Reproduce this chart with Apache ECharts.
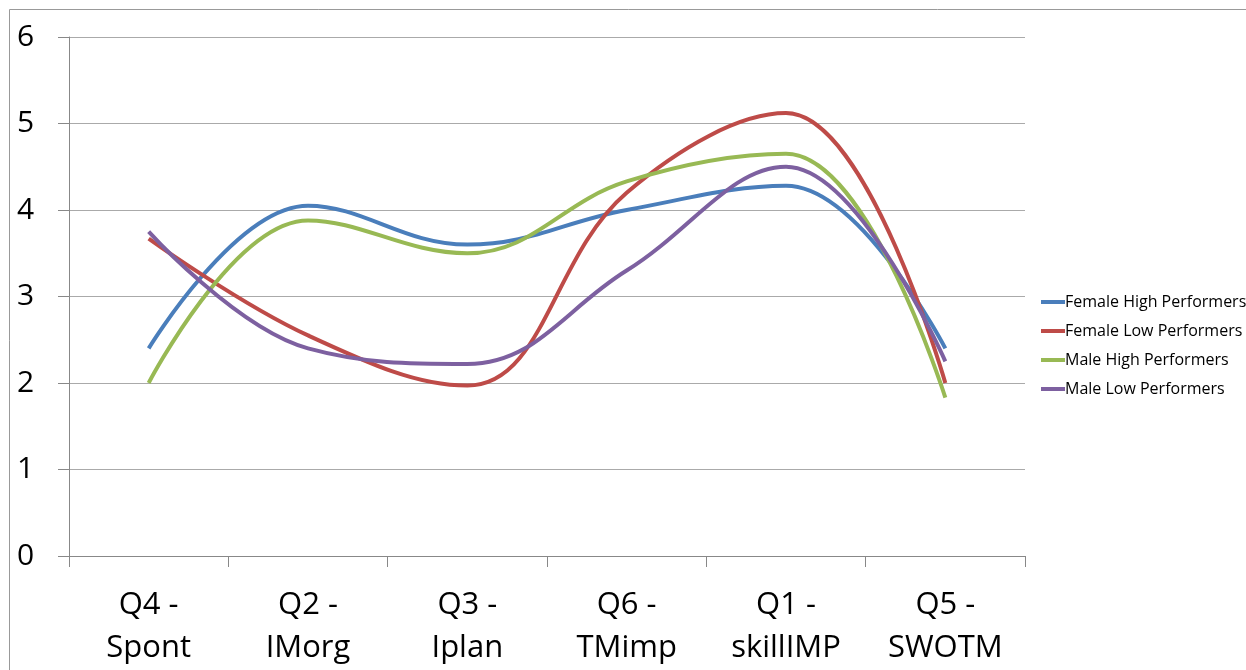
<!DOCTYPE html>
<html><head><meta charset="utf-8">
<script src="https://cdn.jsdelivr.net/npm/echarts@6/dist/echarts.min.js"></script>
<style>html,body{margin:0;padding:0;background:#fff}#c{width:1246px;height:670px}</style>
</head><body><div id="c"></div>
<script>
const categories = ['Q4 -\nSpont', 'Q2 -\nIMorg', 'Q3 -\nIplan', 'Q6 -\nTMimp', 'Q1 -\nskillIMP', 'Q5 -\nSWOTM'];
const femaleHigh = [2.4, 4.05, 3.6, 4.0, 4.28, 2.4];
const femaleLow = [3.67, 2.55, 1.97, 4.2, 5.12, 2.0];
const maleHigh = [2.0, 3.88, 3.5, 4.33, 4.65, 1.83];
const maleLow = [3.75, 2.4, 2.22, 3.3, 4.5, 2.25];
const yTicks = [0, 1, 2, 3, 4, 5, 6];

const chart = echarts.init(document.getElementById('c'));
const mk = (name, data, color) => ({
  name, type: 'line', data, smooth: 0.4, symbol: 'none',
  lineStyle: { color, width: 4 }, itemStyle: { color }
});
chart.setOption({
  animation: false,
  graphic: [{ type: 'rect', shape: { x: 9.5, y: 9.5, width: 1300, height: 700 },
    style: { fill: 'none', stroke: '#999', lineWidth: 1 } }],
  grid: { left: 69, right: 221, top: 37, bottom: 114, outerBoundsMode: 'none', containLabel: false },
  legend: {
    orient: 'vertical', left: 1036, top: 289, itemGap: 13,
    itemWidth: 24, itemHeight: 4, icon: 'rect',
    textStyle: { fontFamily: 'Open Sans', fontSize: 16, color: '#000', padding: [0, 0, 0, -5] },
    data: ['Female High Performers', 'Female Low Performers', 'Male High Performers', 'Male Low Performers']
  },
  xAxis: {
    type: 'category', data: categories, boundaryGap: true,
    axisLine: { lineStyle: { color: '#888', width: 1 } },
    axisTick: { show: true, length: 11, lineStyle: { color: '#888' } },
    axisLabel: { fontFamily: 'Open Sans', fontSize: 31, color: '#000', lineHeight: 43, margin: 28 }
  },
  yAxis: {
    type: 'value', min: 0, max: 6, interval: 1,
    axisLine: { show: true, lineStyle: { color: '#888', width: 1 } },
    axisTick: { show: true, length: 11, lineStyle: { color: '#888' } },
    axisLabel: { fontFamily: 'Open Sans', fontSize: 30, color: '#000', margin: 52, align: 'left',
      formatter: v => yTicks.includes(v) ? String(v) : '' },
    splitLine: { lineStyle: { color: '#aaa', width: 1 } }
  },
  series: [
    mk('Female High Performers', femaleHigh, '#4A7EBB'),
    mk('Female Low Performers', femaleLow, '#BE4B48'),
    mk('Male High Performers', maleHigh, '#98B954'),
    mk('Male Low Performers', maleLow, '#7D60A0')
  ]
});
</script></body></html>
